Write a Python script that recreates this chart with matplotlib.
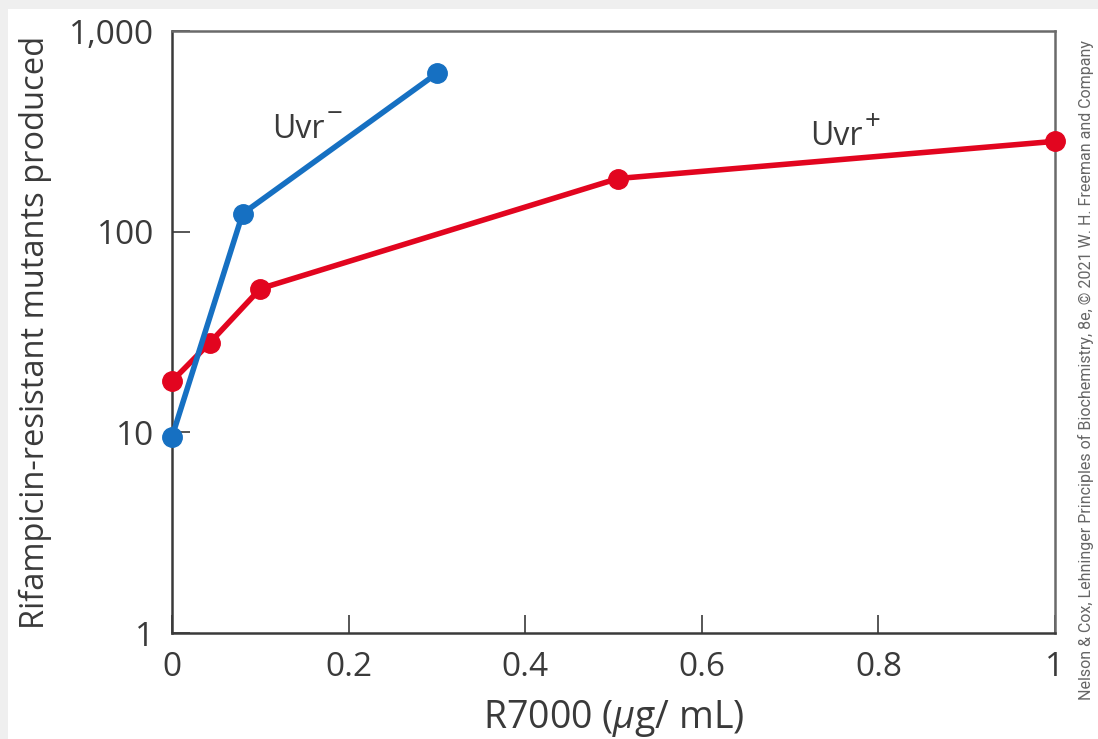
import matplotlib
matplotlib.use("Agg")
import matplotlib.pyplot as plt
from matplotlib.patches import Rectangle
from matplotlib import font_manager

# R7000 dose (ug/mL) and rifampicin-resistant mutant counts
uvr_minus_dose = [0.0, 0.08, 0.30]
uvr_minus_mutants = [9.5, 123, 615]

uvr_plus_dose = [0.0, 0.043, 0.10, 0.505, 1.0]
uvr_plus_mutants = [18, 28, 52, 184, 282]

x_ticks = [0, 0.2, 0.4, 0.6, 0.8, 1]
x_tick_labels = ["0", "0.2", "0.4", "0.6", "0.8", "1"]
y_ticks = [1, 10, 100, 1000]
y_tick_labels = ["1", "10", "100", "1,000"]

BLUE = "#1670c2"
RED = "#e2051f"
INK = "#3a3a3a"

plt.rcParams["font.family"] = ["Open Sans", "DejaVu Sans"]
plt.rcParams["mathtext.fontset"] = "custom"
plt.rcParams["mathtext.rm"] = "Open Sans"
plt.rcParams["mathtext.it"] = "Open Sans:italic"

installed = {f.name for f in font_manager.fontManager.ttflist}
narrow = "Liberation Sans Narrow" if "Liberation Sans Narrow" in installed else "Roboto"

fig = plt.figure(figsize=(10.98, 7.39), dpi=100)
fig.patch.set_facecolor("white")
# thin grey strips along the top and left edges
fig.patches.append(Rectangle((0, 1 - 9 / 739), 1, 9 / 739, transform=fig.transFigure,
                             facecolor="#efefef", edgecolor="none", zorder=0))
fig.patches.append(Rectangle((0, 0), 8 / 1098, 1, transform=fig.transFigure,
                             facecolor="#efefef", edgecolor="none", zorder=0))

ax = fig.add_axes([172 / 1098, 1 - 633 / 739, 883 / 1098, 602 / 739])
ax.set_yscale("log")
ax.set_xlim(0, 1)
ax.set_ylim(1, 1000)

line_kw = dict(lw=4.0, marker="o", ms=14, clip_on=False, solid_capstyle="round")
ax.plot(uvr_minus_dose, uvr_minus_mutants, color=BLUE, zorder=4, **line_kw)
ax.plot(uvr_plus_dose, uvr_plus_mutants, color=RED, zorder=3, **line_kw)

# series labels with raised signs
ax.text(0.113, 292, "Uvr", fontsize=23, color=INK, ha="left", va="baseline")
ax.text(0.184, 380, "\u2212", fontsize=20, color=INK, ha="center", va="center")
ax.text(0.7225, 269, "Uvr", fontsize=23, color=INK, ha="left", va="baseline")
ax.text(0.793, 350, "+", fontsize=20, color=INK, ha="center", va="center")

ax.set_xticks(x_ticks)
ax.set_xticklabels(x_tick_labels)
ax.set_yticks(y_ticks)
ax.set_yticklabels(y_tick_labels)
ax.minorticks_off()
ax.tick_params(axis="both", direction="in", length=13, width=1.2, color=INK,
               labelsize=24, labelcolor=INK, pad=13)
for side in ("left", "bottom", "top", "right"):
    ax.spines[side].set_linewidth(1.8)
    ax.spines[side].set_color(INK)
ax.spines["top"].set_color("#6a6a6a")
ax.spines["right"].set_color("#6a6a6a")

ax.set_xlabel("R7000 ($\\mu$g/ mL)", fontsize=27, color=INK, labelpad=10)
ax.set_ylabel("Rifampicin-resistant mutants produced", fontsize=23.5, color=INK, labelpad=12)

fig.text(1086 / 1098, 0.5,
         "Nelson & Cox, Lehninger Principles of Biochemistry, 8e, \u00a9 2021 W. H. Freeman and Company",
         rotation=90, ha="center", va="center", fontsize=11.5, color="#666666",
         family=[narrow, "DejaVu Sans"])

fig.savefig("out.png", dpi=100, facecolor=fig.get_facecolor())
